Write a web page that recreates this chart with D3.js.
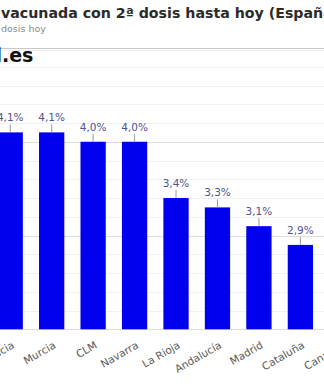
<!DOCTYPE html>
<html>
<head>
<meta charset="utf-8">
<script src="https://cdn.jsdelivr.net/npm/d3@7"></script>
<style>
  html, body { margin: 0; padding: 0; background: #ffffff; overflow: hidden; }
  svg { display: block; }
</style>
</head>
<body>
<svg id="chart" width="324" height="384"></svg>
<script>
// Share of population with the 2nd dose, by region (%)
const regions = ["Galicia", "Murcia", "CLM", "Navarra", "La Rioja", "Andalucía", "Madrid", "Cataluña", "Canarias"];
const values  = [4.1, 4.1, 4.0, 4.0, 3.4, 3.3, 3.1, 2.9, 2.8];
const yTicks  = [2.0, 2.2, 2.4, 2.6, 2.8, 3.0, 3.2, 3.4, 3.6, 3.8, 4.0, 4.2, 4.4, 4.6, 4.8, 5.0];

const titleLead = "% Población ";
const titleText = "vacunada con 2ª dosis hasta hoy (España)";
const subLead   = "Población con 2ª ";
const subText   = "dosis hoy";
const logoLead  = "covidglobal";
const logoText  = ".es";

const svg = d3.select("#chart");
const W = 324;

const fmt = v => d3.format(".1f")(v).replace(".", ",") + "%";

// scales
const step = 41.45;
const x = d3.scaleBand()
  .domain(regions)
  .range([-10.5, -10.5 + step * regions.length])
  .paddingInner(0.39)
  .paddingOuter(0.195);

const y = d3.scaleLinear().domain([2, 5]).range([329.3, 48]);

// grid
const grid = svg.append("g");
grid.selectAll("line")
  .data(yTicks)
  .join("line")
  .attr("x1", 0).attr("x2", W)
  .attr("y1", d => Math.round(y(d)) + 0.5)
  .attr("y2", d => Math.round(y(d)) + 0.5)
  .attr("stroke", d => Math.abs(d - Math.round(d)) < 1e-6 ? "#dedede" : "#f1f1f1")
  .attr("stroke-width", 1);

// header separator
svg.append("line")
  .attr("x1", 0).attr("x2", W)
  .attr("y1", 48.5).attr("y2", 48.5)
  .attr("stroke", "#c8c8c8");
svg.append("line")
  .attr("x1", 0).attr("x2", W)
  .attr("y1", 50.5).attr("y2", 50.5)
  .attr("stroke", "#f0f0f0");

// header line whose leading words sit past the left edge
function leadText(lead, main, yPos, xStart, attrs) {
  const t = svg.append("text").attr("y", yPos);
  Object.entries(attrs).forEach(([k, v]) => t.attr(k, v));
  const a = t.append("tspan").text(lead);
  t.append("tspan").text(main);
  const w = a.node().getComputedTextLength();
  t.attr("x", xStart - w);
  return t;
}

leadText(titleLead, titleText, 18, 1, {
  "font-family": "DejaVu Sans", "font-size": "14.2px", "font-weight": "bold", "fill": "#2b2b2b"
});
leadText(subLead, subText, 31.5, 1, {
  "font-family": "DejaVu Sans", "font-size": "9.5px", "fill": "#8a8a8a"
});
leadText(logoLead, logoText, 61.5, 2, {
  "font-family": "DejaVu Sans", "font-size": "19px", "font-weight": "bold", "fill": "#111"
});

// bars
svg.append("g").selectAll("rect")
  .data(values)
  .join("rect")
  .attr("x", (d, i) => x(regions[i]))
  .attr("width", x.bandwidth())
  .attr("y", d => y(d))
  .attr("height", d => y(2) - y(d))
  .attr("fill", "#0000ee");

// value labels with leader ticks
const lab = svg.append("g");
lab.selectAll("line")
  .data(values)
  .join("line")
  .attr("x1", (d, i) => x(regions[i]) + x.bandwidth() / 2)
  .attr("x2", (d, i) => x(regions[i]) + x.bandwidth() / 2)
  .attr("y1", d => y(d) - 8)
  .attr("y2", d => y(d))
  .attr("stroke", "#9a9a9a");
lab.selectAll("text")
  .data(values)
  .join("text")
  .attr("x", (d, i) => x(regions[i]) + x.bandwidth() / 2)
  .attr("y", d => y(d) - 11)
  .attr("text-anchor", "middle")
  .attr("font-family", "DejaVu Sans")
  .attr("font-size", "10.5px")
  .attr("fill", "#4f5294")
  .text(fmt);

// category axis
const xAxis = svg.append("g")
  .attr("transform", "translate(0,340)")
  .call(d3.axisBottom(x).tickSize(0).tickPadding(0));
xAxis.select(".domain").remove();
xAxis.selectAll("text")
  .attr("font-family", "DejaVu Sans")
  .attr("font-size", "10.5px")
  .attr("fill", "#5a5a5a")
  .attr("text-anchor", "end")
  .attr("dy", "0.35em")
  .attr("transform", "translate(3,4) rotate(-30)");
</script>
</body>
</html>
